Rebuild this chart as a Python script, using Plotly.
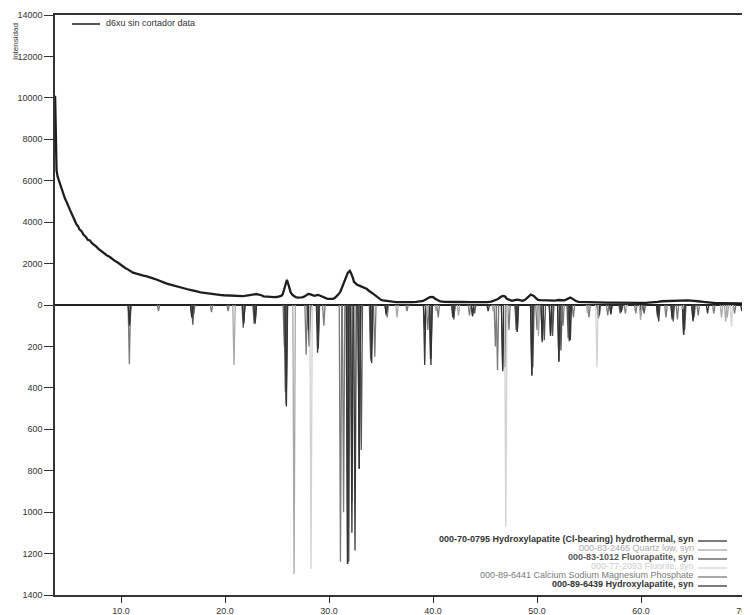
import plotly.graph_objects as go

# ---------------- measured pattern (upper part) ----------------
scan_2theta = [3.66, 3.70, 3.75, 3.80, 3.9, 4.0, 4.1, 4.2, 4.3, 4.45, 4.6, 4.7, 4.85, 5.0, 5.1, 5.2, 5.3,
               5.4, 5.55, 5.7, 5.85, 6.0, 6.2, 6.4, 6.6, 6.8, 7.0, 7.2, 7.4, 7.65, 7.8, 8.0, 8.2, 8.4,
               8.65, 8.9, 9.15, 9.4, 9.65, 9.9, 10.15, 10.4, 10.65, 10.9, 11.15, 11.4, 11.65, 11.9, 12.15,
               12.4, 12.65, 12.9, 13.15, 13.4, 13.65, 13.9, 14.15, 14.4, 14.65, 14.9, 15.15, 15.4, 15.65,
               15.9, 16.15, 16.4, 16.65, 16.9, 17.15, 17.4, 17.65, 17.9, 18.15, 18.4, 18.65, 18.9, 19.15,
               19.4, 19.65, 19.9, 20.15, 20.4, 20.65, 20.9, 21.15, 21.4, 21.65, 21.9, 22.1, 22.3, 22.5,
               22.7, 22.85, 23.0, 23.15, 23.3, 23.5, 23.7, 23.95, 24.2, 24.45, 24.7, 24.95, 25.2, 25.4,
               25.55, 25.75, 25.95, 26.15, 26.3, 26.5, 26.8, 27.0, 27.2, 27.4, 27.6, 27.8, 28.0, 28.15,
               28.3, 28.45, 28.6, 28.75, 28.9, 29.05, 29.2, 29.4, 29.6, 29.8, 30.0, 30.2, 30.4, 30.6,
               30.8, 30.95, 31.1, 31.25, 31.4, 31.5, 31.6, 31.7, 31.8, 31.9, 32.0, 32.1, 32.2, 32.3, 32.4,
               32.5, 32.6, 32.7, 32.8, 32.9, 33.0, 33.1, 33.2, 33.35, 33.5, 33.65, 33.8, 33.9, 34.0, 34.1,
               34.2, 34.35, 34.5, 34.65, 34.8, 35.0, 35.2, 35.5, 35.8, 36.1, 36.5, 36.8, 37.2, 37.6, 38.0,
               38.4, 38.8, 39.05, 39.3, 39.5, 39.7, 39.9, 40.05, 40.2, 40.45, 40.7, 41.1, 41.5, 41.9, 42.3,
               42.7, 43.2, 43.6, 44.0, 44.4, 44.8, 45.2, 45.6, 45.9, 46.2, 46.4, 46.6, 46.8, 46.95, 47.1,
               47.35, 47.6, 47.85, 48.1, 48.35, 48.6, 48.85, 49.1, 49.25, 49.4, 49.55, 49.7, 49.9, 50.1,
               50.35, 50.6, 50.95, 51.3, 51.7, 52.1, 52.35, 52.6, 52.8, 53.0, 53.2, 53.35, 53.5, 53.75,
               54.0, 54.4, 54.8, 55.2, 55.6, 56.0, 56.4, 56.8, 57.2, 57.6, 58.0, 58.4, 58.8, 59.2, 59.6,
               60.0, 60.4, 60.8, 61.2, 61.6, 62.0, 62.4, 62.8, 63.2, 63.6, 63.9, 64.2, 64.5, 64.8, 65.1,
               65.4, 65.7, 66.0, 66.4, 66.8, 67.2, 67.6, 68.0, 68.4, 68.8, 69.2, 69.6, 70.0]
scan_counts = [10100, 8200, 7000, 6500, 6200, 6050, 5850, 5750, 5500, 5330, 5150, 5050, 4820, 4700,
               4580, 4450, 4380, 4180, 4080, 3900, 3820, 3650, 3560, 3390, 3300, 3150, 3120, 2980, 2920,
               2810, 2720, 2640, 2560, 2510, 2390, 2330, 2220, 2130, 2060, 1960, 1900, 1790, 1720, 1630,
               1560, 1530, 1480, 1450, 1420, 1390, 1340, 1300, 1270, 1230, 1170, 1130, 1080, 1030, 1000,
               960, 930, 890, 860, 820, 800, 760, 730, 690, 670, 640, 610, 590, 575, 550, 535, 520, 505,
               490, 480, 470, 460, 450, 448, 440, 430, 430, 425, 440, 455, 470, 500, 520, 530, 530, 515,
               500, 470, 420, 405, 390, 385, 380, 385, 400, 440, 520, 900, 1220, 900, 620, 480, 380, 360,
               350, 370, 400, 460, 530, 520, 500, 470, 440, 460, 490, 470, 440, 380, 330, 310, 300, 305,
               300, 360, 450, 540, 650, 820, 1050, 1180, 1300, 1420, 1550, 1620, 1650, 1560, 1450, 1300,
               1120, 1060, 1000, 980, 960, 940, 900, 890, 870, 850, 820, 770, 700, 650, 610, 590, 560,
               500, 450, 380, 300, 250, 220, 190, 170, 160, 140, 135, 130, 130, 140, 150, 160, 200, 260,
               330, 380, 395, 370, 300, 230, 170, 150, 140, 150, 145, 150, 130, 135, 140, 135, 130, 140,
               160, 210, 280, 350, 420, 440, 400, 300, 230, 200, 230, 260, 230, 200, 250, 350, 420, 500,
               470, 440, 330, 250, 240, 230, 215, 200, 215, 240, 230, 220, 260, 320, 360, 320, 260, 190,
               150, 140, 130, 125, 120, 115, 110, 115, 110, 105, 100, 110, 110, 105, 100, 100, 105, 110,
               120, 150, 180, 190, 200, 210, 220, 225, 230, 220, 210, 205, 200, 170, 150, 120, 100, 95,
               90, 85, 80, 85, 80, 75, 70]

# ---------------- reference stick patterns (lower part, own scale) ----------------
p1_name = "000-70-0795 Hydroxylapatite (Cl-bearing) hydrothermal, syn"
p1_pos = [10.8, 16.8, 21.8, 22.9, 25.9, 28.1, 28.9, 31.8, 32.2, 32.9, 34.1, 35.5, 39.2, 39.8, 41.9, 43.8,
          45.3, 46.7, 48.1, 49.5, 50.5, 51.3, 52.1, 53.2, 55.9, 57.1, 58.1, 60.0, 61.6, 63.0, 64.1, 65.0,
          66.4, 69.7]
p1_int = [100, 60, 90, 80, 490, 200, 230, 1250, 1100, 790, 280, 40, 120, 290, 60, 50, 30, 320, 130, 340,
          170, 140, 270, 170, 60, 40, 30, 50, 50, 60, 140, 70, 40, 30]

p2_name = "000-83-2465 Quartz low, syn"
p2_pos = [20.86, 26.64, 36.54, 39.46, 40.29, 42.45, 45.79, 50.14, 54.87, 59.96, 64.0, 67.74, 68.14, 68.3]
p2_int = [290, 1300, 60, 60, 30, 50, 30, 150, 40, 72, 20, 60, 80, 60]

p3_name = "000-83-1012 Fluorapatite, syn"
p3_pos = [10.85, 16.9, 21.75, 22.8, 25.8, 28.0, 28.95, 31.9, 32.2, 33.1, 34.0, 39.75, 42.0, 44.0, 46.9,
          48.0, 49.6, 50.7, 51.5, 52.3, 53.0, 56.0, 58.0, 60.3, 61.6, 63.1, 64.2, 65.1]
p3_int = [90, 95, 110, 90, 420, 120, 190, 1240, 950, 700, 260, 260, 70, 40, 300, 120, 300, 170, 150, 220,
          160, 50, 40, 40, 60, 80, 120, 60]

p4_name = "000-77-2093 Fluorite, syn"
p4_pos = [28.27, 47.0, 55.76, 58.6, 68.7]
p4_int = [1275, 1070, 300, 20, 105]

p5_name = "000-89-6441 Calcium Sodium Magnesium Phosphate"
p5_pos = [10.8, 13.6, 17.0, 18.7, 20.3, 25.7, 27.8, 29.5, 31.1, 31.4, 33.0, 34.4, 35.6, 37.5, 39.5, 40.5,
          43.5, 46.0, 46.2, 47.3, 48.0, 50.0, 51.5, 52.5, 53.5, 55.0, 56.8, 58.5, 59.5, 62.4, 63.5, 65.5,
          67.0, 69.0]
p5_int = [285, 30, 40, 35, 30, 200, 240, 100, 1240, 1000, 200, 250, 60, 30, 120, 60, 50, 200, 315, 120,
          60, 120, 80, 100, 60, 60, 50, 40, 40, 60, 70, 50, 40, 40]

p6_name = "000-89-6439 Hydroxylapatite, syn"
p6_pos = [10.82, 16.8, 21.8, 22.9, 25.88, 28.13, 28.97, 31.77, 32.5, 32.9, 34.05, 35.5, 39.2, 39.8, 42.0,
          43.8, 46.7, 48.1, 49.5, 50.5, 51.3, 52.1, 53.1, 55.9, 57.1, 58.1, 60.0, 61.7, 63.0, 64.1, 65.0]
p6_int = [80, 50, 80, 90, 480, 130, 210, 1250, 1185, 790, 270, 50, 290, 260, 60, 55, 310, 130, 340, 180,
          150, 275, 175, 65, 45, 35, 40, 80, 70, 145, 80]

scan_name = "d6xu sin cortador data"

y_ticks_upper = [14000, 12000, 10000, 8000, 6000, 4000, 2000, 0]
y_ticks_lower = [200, 400, 600, 800, 1000, 1200, 1400]
x_ticks = [10, 20, 30, 40, 50, 60, 70]

LOWER_SCALE = 10  # lower panel: 1 unit = 10 upper units
HALF_W = 0.12

patterns = [
    (p6_name, p6_pos, p6_int, "#3a3a3a"),
    (p5_name, p5_pos, p5_int, "#7a7a7a"),
    (p3_name, p3_pos, p3_int, "#555555"),
    (p1_name, p1_pos, p1_int, "#333333"),
    (p2_name, p2_pos, p2_int, "#a8a8a8"),
    (p4_name, p4_pos, p4_int, "#d2d2d2"),
]
legend_order = [
    (p1_name, "#333333", True),
    (p2_name, "#a8a8a8", False),
    (p3_name, "#555555", True),
    (p4_name, "#d2d2d2", False),
    (p5_name, "#7a7a7a", False),
    (p6_name, "#333333", True),
]

fig = go.Figure()

for name, pos, inten, col in patterns:
    xs, ys = [], []
    for p, i in zip(pos, inten):
        xs += [p - HALF_W, p, p + HALF_W, None]
        ys += [0, -i * LOWER_SCALE, 0, None]
    fig.add_trace(go.Scatter(x=xs, y=ys, mode="lines", name=name,
                             line=dict(color=col, width=1.3), hoverinfo="skip"))

fig.add_trace(go.Scatter(x=scan_2theta, y=scan_counts, mode="lines", name=scan_name,
                         line=dict(color="#1e1e1e", width=2.3)))

FONT = "Liberation Sans, Arial, sans-serif"

# page body has an 8px margin -> figure is 8px smaller, plot area placed accordingly
fig.update_layout(
    width=742, height=607,
    margin=dict(l=47, r=5, t=7, b=20),
    plot_bgcolor="white", paper_bgcolor="white",
    showlegend=False,
    font=dict(family=FONT, size=9, color="#333333"),
    xaxis=dict(range=[3.65, 70.0], tickvals=x_ticks, ticktext=[f"{v:.1f}" for v in x_ticks],
               ticks="outside", ticklen=6, tickwidth=1.3, tickcolor="#333",
               showline=True, linecolor="#333", linewidth=1.5, mirror=True,
               showgrid=False, zeroline=False, automargin=False, ticklabeloverflow="allow",
               tickfont=dict(family=FONT, size=9, color="#333")),
    yaxis=dict(range=[-14000, 14000],
               tickvals=y_ticks_upper + [-v * LOWER_SCALE for v in y_ticks_lower],
               ticktext=[str(v) for v in y_ticks_upper] + [str(v) for v in y_ticks_lower],
               ticks="outside", ticklen=9, tickwidth=1.3, tickcolor="#333",
               showline=True, linecolor="#333", linewidth=1.5, mirror=True,
               showgrid=False, zeroline=True, zerolinecolor="#222", zerolinewidth=1.6,
               automargin=False, ticklabeloverflow="allow",
               tickfont=dict(family=FONT, size=9, color="#333")),
)

# y axis title (small, rotated, top-left)
fig.add_annotation(text="Intensidad", xref="paper", yref="paper", x=-0.058, y=0.955,
                   textangle=-90, showarrow=False, font=dict(family=FONT, size=8, color="#333"),
                   xanchor="center", yanchor="middle")

# top-left legend
fig.add_shape(type="line", xref="paper", yref="paper", x0=17 / 690, x1=45 / 690,
              y0=(595 - 24) / 580, y1=(595 - 24) / 580, line=dict(color="#1e1e1e", width=1.5))
fig.add_annotation(text=scan_name, xref="paper", yref="paper", x=49 / 690, y=(595 - 23) / 580,
                   xanchor="left", yanchor="middle", showarrow=False,
                   font=dict(family=FONT, size=9, color="#333"))

# bottom-right legend for reference patterns
for k, (name, col, bold) in enumerate(legend_order):
    ypix = 539 + k * 9
    yp = (595 - ypix) / 580
    txt = f"<b>{name}</b>" if bold else name
    fig.add_annotation(text=txt, xref="paper", yref="paper", x=(696 - 55) / 690, y=yp,
                       xanchor="right", yanchor="middle", showarrow=False,
                       font=dict(family=FONT, size=9, color=col if col != "#d2d2d2" else "#cccccc"))
    fig.add_shape(type="line", xref="paper", yref="paper", x0=(698 - 55) / 690, x1=(727 - 55) / 690,
                  y0=yp - 2 / 580, y1=yp - 2 / 580, line=dict(color=col, width=1.3))

fig.write_html("out.html")
